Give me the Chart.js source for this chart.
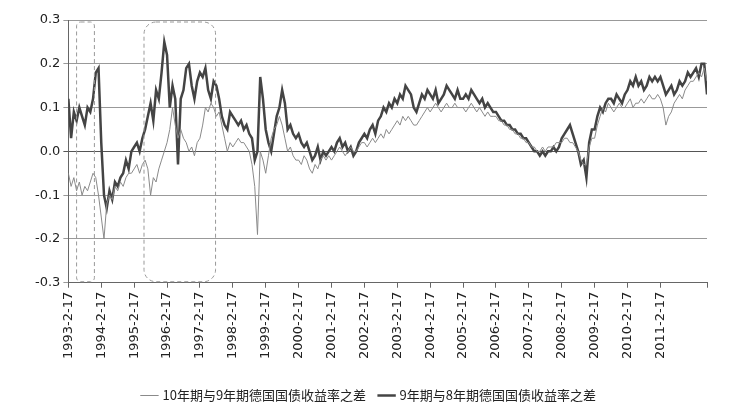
<!DOCTYPE html><html><head><meta charset="utf-8">
<script src="https://cdn.jsdelivr.net/npm/chart.js@4"></script>
<style>body{margin:0;background:#fff}#w{width:737px;height:416px}</style></head><body><div id="w"><canvas id="c"></canvas></div>
<script>
const startYear = 1993; // monthly from Feb 1993
const yearTicks = ["1993-2-17","1994-2-17","1995-2-17","1996-2-17","1997-2-17","1998-2-17","1999-2-17","2000-2-17","2001-2-17","2002-2-17","2003-2-17","2004-2-17","2005-2-17","2006-2-17","2007-2-17","2008-2-17","2009-2-17","2010-2-17","2011-2-17","2012-2-17"];
const spread98 = [
.12,.03,.09,.07,.10,.08,.06,.10,.09,.12,.18,.19,
.02,-.10,-.13,-.09,-.11,-.07,-.08,-.06,-.05,-.02,-.04,.00,
.01,.02,.00,.03,.05,.08,.11,.07,.14,.12,.18,.25,
.22,.10,.15,.12,-.03,.12,.14,.19,.20,.15,.12,.16,
.18,.17,.19,.14,.12,.16,.15,.12,.08,.06,.05,.09,
.08,.07,.06,.07,.05,.06,.04,.03,-.02,.00,.17,.12,
.05,.02,.00,.04,.08,.10,.14,.11,.05,.06,.04,.03,
.04,.02,.01,.02,.00,-.02,-.01,.01,-.02,.00,-.01,.00,
.01,.00,.02,.03,.01,.02,.00,.01,-.01,.00,.02,.03,
.04,.03,.05,.06,.04,.07,.08,.10,.09,.11,.10,.12,
.11,.13,.12,.15,.14,.13,.10,.09,.11,.13,.12,.14,
.13,.12,.14,.11,.12,.13,.15,.14,.13,.12,.14,.12,
.12,.13,.12,.14,.13,.12,.11,.12,.10,.11,.10,.09,
.09,.08,.07,.07,.06,.06,.05,.05,.04,.04,.03,.03,
.02,.01,.00,.00,-.01,.00,-.01,.00,.00,.01,.00,.01,
.03,.04,.05,.06,.04,.02,.00,-.03,-.02,-.06,.02,.05,
.05,.08,.10,.09,.11,.12,.12,.11,.13,.12,.11,.13,
.14,.16,.15,.17,.15,.16,.14,.15,.17,.16,.17,.16,
.17,.15,.13,.14,.15,.13,.14,.16,.15,.16,.18,.17,
.18,.19,.17,.20,.20,.13];
const spread109 = [
-.05,-.08,-.06,-.09,-.07,-.10,-.08,-.09,-.07,-.05,-.06,-.10,
-.15,-.20,-.12,-.10,-.11,-.08,-.09,-.07,-.08,-.06,-.05,-.05,
-.04,-.03,-.05,-.03,-.02,-.04,-.10,-.06,-.07,-.04,-.02,.00,
.02,.05,.10,.06,.03,.05,.03,.02,.00,.01,-.01,.02,
.03,.06,.10,.09,.11,.10,.08,.09,.06,.03,.00,.02,
.01,.02,.03,.02,.02,.01,.00,-.03,-.08,-.19,.00,-.02,
-.05,-.01,.03,.05,.06,.08,.06,.03,.00,.01,-.01,-.02,
-.02,-.03,-.01,-.02,-.04,-.05,-.03,-.04,-.02,-.01,-.02,-.01,
-.02,-.01,.00,.01,.00,-.01,.00,.01,.00,.00,.01,.02,
.02,.01,.02,.03,.02,.03,.04,.03,.05,.04,.05,.06,
.07,.06,.08,.07,.08,.07,.06,.06,.07,.08,.09,.10,
.09,.10,.11,.10,.09,.10,.11,.10,.10,.11,.10,.10,
.10,.09,.10,.11,.10,.09,.10,.09,.08,.09,.08,.08,
.08,.07,.07,.06,.06,.05,.05,.04,.04,.03,.03,.02,
.02,.01,.01,.00,.00,.01,.00,.01,.01,.01,.02,.02,
.02,.03,.03,.02,.02,.01,.00,-.02,-.03,-.03,.01,.03,
.03,.06,.08,.10,.09,.11,.10,.09,.10,.11,.10,.10,
.11,.12,.10,.11,.11,.12,.11,.12,.13,.12,.12,.13,
.12,.10,.06,.08,.09,.11,.12,.13,.12,.14,.15,.16,
.16,.17,.18,.17,.19,.16];
const highlightMonths = [[3,9.5],[27.6,53.7]];
const names = ["10年期与9年期德国国债收益率之差","9年期与8年期德国国债收益率之差"];

const pts = a => a.map((v,i)=>({x:i,y:v}));
const boxes = {id:'boxes',afterDatasetsDraw(ch){const c=ch.ctx,xs=ch.scales.x,a=ch.chartArea;c.save();c.strokeStyle='#999';c.setLineDash([4,3]);c.lineWidth=1;
highlightMonths.forEach(([s,e])=>{const x0=xs.getPixelForValue(s),x1=xs.getPixelForValue(e);c.beginPath();c.roundRect(x0,a.top+2,x1-x0,a.bottom-a.top-3,(x1-x0)>40?12:4);c.stroke();});c.restore();}};
new Chart(document.getElementById('c'),{type:'line',
data:{datasets:[
{label:names[0],data:pts(spread109),borderColor:'#8a8a8a',borderWidth:1,pointRadius:0,tension:0},
{label:names[1],data:pts(spread98),borderColor:'#444',borderWidth:2.5,pointRadius:0,tension:0}]},
options:{responsive:true,maintainAspectRatio:false,animation:false,
layout:{padding:{left:32,right:30,top:20,bottom:4}},
plugins:{legend:{position:'bottom',labels:{usePointStyle:true,pointStyle:'line',boxWidth:40,padding:14,color:'#222',font:{family:'Noto Sans CJK SC',size:13}}},tooltip:{enabled:false}},
scales:{
x:{type:'linear',min:0,max:233,ticks:{stepSize:12,autoSkip:false,minRotation:90,maxRotation:90,padding:4,color:'#222',font:{family:'DejaVu Sans',size:13},callback:v=>yearTicks[v/12]||''},grid:{drawOnChartArea:false,color:'#666',tickLength:5},border:{color:'#666'},afterFit(s){s.height+=12;}},
y:{min:-0.3,max:0.3,ticks:{stepSize:0.1,color:'#222',font:{family:'DejaVu Sans',size:13},callback:v=>v.toFixed(1)},
grid:{color:c=>Math.abs(c.tick.value)<1e-9?'#555':'#999',tickLength:5},border:{color:'#666',dash:[]}}}},
plugins:[boxes]});
</script></body></html>
